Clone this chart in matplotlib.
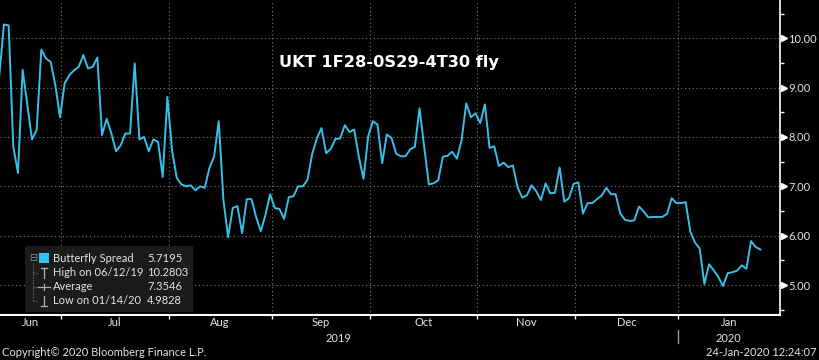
import matplotlib
matplotlib.use("Agg")
import matplotlib.pyplot as plt
import matplotlib.transforms as mtransforms
from matplotlib.lines import Line2D
from matplotlib.patches import Rectangle
import numpy as np
import pandas as pd

W, H = 819, 360

# daily (business day) butterfly spread, 11-Jun-2019 .. 24-Jan-2020
start_date = "2019-06-11"
end_date = "2020-01-24"
spread = [
    9.25, 10.28, 10.26, 7.80, 7.27, 9.36, 8.65, 7.95, 8.14, 9.77,
    9.59, 9.52, 9.05, 8.40, 9.09, 9.25, 9.35, 9.42, 9.66, 9.39,
    9.42, 9.61, 8.04, 8.37, 8.07, 7.71, 7.83, 8.07, 8.07, 9.49,
    7.95, 8.00, 7.71, 7.95, 7.90, 7.19, 8.81, 7.73, 7.17, 7.04,
    7.00, 7.02, 6.92, 7.00, 6.97, 7.37, 7.60, 8.32, 6.72, 5.97,
    6.56, 6.60, 6.05, 6.74, 6.74, 6.38, 6.09, 6.42, 6.84, 6.56,
    6.54, 6.34, 6.78, 6.80, 7.00, 7.00, 7.13, 7.65, 7.97, 8.18,
    7.67, 7.76, 7.96, 7.97, 8.24, 8.10, 8.15, 7.60, 7.15, 8.01,
    8.32, 8.25, 7.47, 8.05, 7.98, 7.66, 7.61, 7.61, 7.75, 7.80,
    8.58, 7.80, 7.04, 7.06, 7.12, 7.60, 7.62, 7.70, 7.56, 7.93,
    8.68, 8.40, 8.48, 8.28, 8.66, 7.78, 7.81, 7.41, 7.48, 7.39,
    7.42, 6.98, 6.77, 6.82, 7.02, 6.90, 6.72, 7.06, 6.86, 6.87,
    7.38, 6.69, 6.76, 7.05, 7.08, 6.45, 6.66, 6.66, 6.74, 6.81,
    6.97, 6.84, 6.84, 6.45, 6.32, 6.30, 6.31, 6.59, 6.49, 6.37,
    6.38, 6.38, 6.38, 6.44, 6.76, 6.66, 6.66, 6.68, 6.08, 5.86,
    5.74, 5.02, 5.42, 5.30, 5.16, 4.98, 5.24, 5.26, 5.29, 5.40,
    5.33, 5.89, 5.77, 5.72,
]
y_ticks = [5, 6, 7, 8, 9, 10]
y_minor = [4.5, 5.5, 6.5, 7.5, 8.5, 9.5, 10.5]

title = "UKT 1F28-0S29-4T30 fly"
legend_labels = ["Butterfly Spread", "High on 06/12/19", "Average", "Low on 01/14/20"]
legend_values = ["5.7195", "10.2803", "7.3546", "4.9828"]
footer_left = "Copyright\u00a9 2020 Bloomberg Finance L.P."
footer_right = "24-Jan-2020 12:24:07"

LINE = "#38bfe9"
GRID = "#7a7a7a"
TXT = "#e4e4e4"
FONT = "Lato"


def P(x, y):
    # pixel position -> figure fraction
    return x / W, 1 - y / H


dates = pd.bdate_range(start_date, end_date)
x = np.arange(len(dates))

fig = plt.figure(figsize=(W / 100, H / 100), dpi=100, facecolor="black")
ax = fig.add_axes([0, 45 / H, 780 / W, 315 / H], facecolor="black")

ax.plot(x, spread, color=LINE, lw=1.4, zorder=3)
ax.set_xlim(0.15, 167.2)
ax.set_ylim(4.393, 10.775)

# month boundaries
months = dates.to_period("M")
first_idx = [i for i in range(1, len(dates)) if months[i] != months[i - 1]]
bounds = [i - 0.7 for i in first_idx]
ax.set_xticks(bounds)
ax.set_xticklabels([])
ax.tick_params(axis="x", direction="out", length=3, width=1, color="white")

ax.set_yticks(y_ticks)
ax.set_yticks(y_minor, minor=True)
ax.yaxis.tick_right()
ax.tick_params(axis="y", which="major", length=0, pad=6, labelsize=8,
               labelcolor=TXT)
ax.tick_params(axis="y", which="minor", direction="out", length=3, width=1,
               color="white")
ax.set_yticklabels([f"{v:.2f}" for v in y_ticks], family=FONT)
ax.plot(np.full(len(y_ticks), 1 + 3.5 / 780), y_ticks, ls="none", marker=">",
        ms=4, color="white", transform=ax.get_yaxis_transform(), clip_on=False)

ax.grid(True, which="major", color=GRID, lw=0.8, ls=(0, (1, 2.5)))
for s in ["top", "left"]:
    ax.spines[s].set_visible(False)
ax.spines["right"].set_color("white")
ax.spines["right"].set_linewidth(1.2)
ax.spines["bottom"].set_color("white")
ax.spines["bottom"].set_linewidth(1.5)

# month and year labels under the axis
bt = mtransforms.blended_transform_factory(ax.transData, fig.transFigure)
edges = [ax.get_xlim()[0]] + bounds + [ax.get_xlim()[1]]
starts = [0] + first_idx
for k, i0 in enumerate(starts):
    mid = (edges[k] + edges[k + 1]) / 2
    ax.text(mid, P(0, 323)[1], dates[i0].strftime("%b"), transform=bt,
            ha="center", va="center", color=TXT, fontsize=8, family=FONT)

years = dates.year
year_split = [i for i in first_idx if years[i] != years[i - 1]][0]
split_x = year_split - 0.7
for lo, hi, lab in [(edges[0], split_x, str(years[0])),
                    (split_x, edges[-1], str(years[-1]))]:
    ax.text((lo + hi) / 2, P(0, 338)[1], lab, transform=bt, ha="center",
            va="center", color=TXT, fontsize=8, family=FONT)
ax.add_line(Line2D([split_x, split_x], [P(0, 330)[1], P(0, 343)[1]],
                   transform=bt, color="#9a9a9a", lw=1, clip_on=False))

# title
fig.text(*P(389, 63), title, ha="center", va="center", color="white",
         fontsize=11.7, fontweight="bold", family="DejaVu Sans")

# legend box
fig.add_artist(Rectangle(P(25, 312), 168 / W, 66 / H, transform=fig.transFigure,
                         facecolor="#1b1b1b", edgecolor="none", zorder=5))
rows = [258, 273, 287, 301]
for r, lab, val in zip(rows, legend_labels, legend_values):
    fig.text(*P(53, r), lab, ha="left", va="center", color=TXT, fontsize=8,
             family=FONT, zorder=6)
    fig.text(*P(147, r), val, ha="left", va="center", color=TXT, fontsize=8,
             family=FONT, zorder=6)
fig.add_artist(Rectangle(P(39, 263), 10 / W, 10 / H, transform=fig.transFigure,
                         facecolor="#2fc4f4", edgecolor="none", zorder=6))
fig.text(*P(33, 258), "\u229f", ha="center", va="center", color="#8a8a8a",
         fontsize=7, family="DejaVu Sans", zorder=6)
tree = dict(transform=fig.transFigure, color="#7a7a7a", lw=0.8,
            ls=(0, (1, 1.5)), zorder=6)
fig.add_artist(Line2D([P(33, 0)[0]] * 2, [P(0, 263)[1], P(0, 301)[1]], **tree))
for r in rows[1:]:
    fig.add_artist(Line2D([P(33, 0)[0], P(38, 0)[0]], [P(0, r)[1]] * 2, **tree))
icon = dict(color="#b0b0b0", lw=0.9, transform=fig.transFigure, zorder=6)
# high icon
fig.add_artist(Line2D([P(41, 0)[0], P(47, 0)[0]], [P(0, 268)[1]] * 2, **icon))
fig.add_artist(Line2D([P(44, 0)[0]] * 2, [P(0, 268)[1], P(0, 278)[1]], **icon))
# average icon
fig.add_artist(Line2D([P(38, 0)[0], P(50, 0)[0]], [P(0, 287)[1]] * 2, **icon))
fig.add_artist(Line2D([P(44, 0)[0]] * 2, [P(0, 284)[1], P(0, 290)[1]], **icon))
# low icon
fig.add_artist(Line2D([P(41, 0)[0], P(47, 0)[0]], [P(0, 306)[1]] * 2, **icon))
fig.add_artist(Line2D([P(44, 0)[0]] * 2, [P(0, 296)[1], P(0, 306)[1]], **icon))

# footer
fig.text(*P(2, 352), footer_left, ha="left", va="center", color=TXT,
         fontsize=8, family=FONT)
fig.text(*P(817, 352), footer_right, ha="right", va="center", color=TXT,
         fontsize=8, family=FONT)

fig.savefig("out.png", dpi=100, facecolor="black")
